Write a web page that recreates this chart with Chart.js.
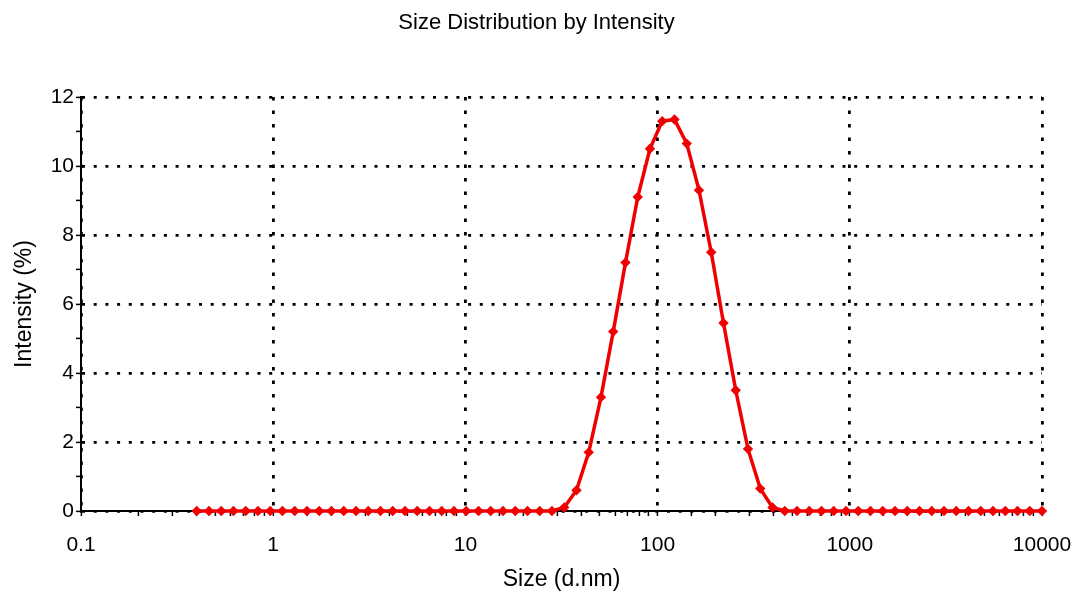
<!DOCTYPE html>
<html>
<head>
<meta charset="utf-8">
<script src="https://cdn.jsdelivr.net/npm/chart.js@4.4.1/dist/chart.umd.min.js"></script>
<style>
  html, body { margin: 0; padding: 0; background: #fff; }
  #wrap { width: 1089px; height: 600px; }
</style>
</head>
<body>
<div id="wrap"><canvas id="c" width="1089" height="600"></canvas></div>
<script>
// ---- data ----
const chartTitle = 'Size Distribution by Intensity';
const xAxisTitle = 'Size (d.nm)';
const yAxisTitle = 'Intensity (%)';

// size bins (d.nm)
const sizes = [
  0.4, 0.4632, 0.5365, 0.6213, 0.7195, 0.8332, 0.9649, 1.117, 1.294, 1.499,
  1.736, 2.01, 2.328, 2.696, 3.122, 3.615, 4.187, 4.849, 5.615, 6.503,
  7.531, 8.721, 10.1, 11.7, 13.54, 15.69, 18.17, 21.04, 24.36, 28.21,
  32.67, 37.84, 43.82, 50.75, 58.77, 68.06, 78.82, 91.28, 105.7, 122.4,
  141.8, 164.2, 190.1, 220.2, 255.0, 295.3, 342.0, 396.1, 458.7, 531.2,
  615.1, 712.4, 825.0, 955.4, 1106, 1281, 1484, 1718, 1990, 2305,
  2669, 3091, 3580, 4145, 4801, 5560, 6439, 7456, 8635, 10000
];

// intensity (%)
const intensity = [
  0, 0, 0, 0, 0, 0, 0, 0, 0, 0,
  0, 0, 0, 0, 0, 0, 0, 0, 0, 0,
  0, 0, 0, 0, 0, 0, 0, 0, 0, 0,
  0.1, 0.6, 1.7, 3.3, 5.2, 7.2, 9.1, 10.5, 11.3, 11.35,
  10.65, 9.3, 7.5, 5.45, 3.5, 1.8, 0.65, 0.1, 0, 0,
  0, 0, 0, 0, 0, 0, 0, 0, 0, 0,
  0, 0, 0, 0, 0, 0, 0, 0, 0, 0
];

const xTickValues = [0.1, 1, 10, 100, 1000, 10000];
const xTickLabels = ['0.1', '1', '10', '100', '1000', '10000'];
const yTickValues = [0, 2, 4, 6, 8, 10, 12];
const yTickLabels = ['0', '2', '4', '6', '8', '10', '12'];

// ---- chart ----
const FONT = "'Liberation Sans', Arial, sans-serif";
function xLabelIndex(v) {
  for (let i = 0; i < xTickValues.length; i++) {
    if (Math.abs(Math.log10(v) - Math.log10(xTickValues[i])) < 1e-6) return i;
  }
  return -1;
}
function yLabelIndex(v) {
  for (let i = 0; i < yTickValues.length; i++) {
    if (Math.abs(v - yTickValues[i]) < 1e-6) return i;
  }
  return -1;
}

new Chart(document.getElementById('c'), {
  type: 'line',
  data: {
    datasets: [{
      data: sizes.map((s, i) => ({ x: s, y: intensity[i] })),
      borderColor: 'rgb(240,0,0)',
      backgroundColor: 'rgb(240,0,0)',
      borderWidth: 3.5,
      pointStyle: 'rectRot',
      pointRadius: 5.2,
      pointBorderWidth: 0,
      pointBackgroundColor: 'rgb(240,0,0)',
      tension: 0,
      clip: false
    }]
  },
  options: {
    responsive: false,
    devicePixelRatio: 1,
    animation: false,
    layout: { padding: { left: 31, right: 47, top: 0, bottom: 0 } },
    plugins: {
      legend: { display: false },
      tooltip: { enabled: false },
      title: {
        display: true,
        text: chartTitle,
        color: '#000',
        font: { family: FONT, size: 22, weight: 'normal' },
        padding: { top: 10, bottom: 60.6 }
      }
    },
    scales: {
      x: {
        type: 'logarithmic',
        min: 0.1,
        max: 10000,
        afterFit: (s) => { s.height = 89; },
        border: { display: true, color: '#000', width: 2, dash: [3.5, 10] },
        grid: {
          color: (ctx) => (ctx.tick && xLabelIndex(ctx.tick.value) >= 0) ? '#000' : 'rgba(0,0,0,0)',
          lineWidth: 2.8,
          drawTicks: true,
          tickLength: 5,
          tickColor: '#000',
          tickWidth: 1.5
        },
        ticks: {
          autoSkip: false,
          maxRotation: 0,
          padding: 17,
          color: '#000',
          font: { family: FONT, size: 21 },
          callback: (v) => { const i = xLabelIndex(v); return i >= 0 ? xTickLabels[i] : ''; }
        },
        title: {
          display: true,
          text: xAxisTitle,
          color: '#000',
          font: { family: FONT, size: 23 },
          padding: { top: 0, bottom: 7 }
        }
      },
      y: {
        min: 0,
        max: 12,
        afterFit: (s) => { s.width = 50; },
        border: { display: true, color: '#000', width: 2, dash: [3, 8.7] },
        grid: {
          color: (ctx) => (ctx.tick && yLabelIndex(ctx.tick.value) >= 0) ? '#000' : 'rgba(0,0,0,0)',
          lineWidth: 2.8,
          drawTicks: true,
          tickLength: 5,
          tickColor: '#000',
          tickWidth: 1.5
        },
        ticks: {
          stepSize: 1,
          autoSkip: false,
          padding: 2,
          color: '#000',
          font: { family: FONT, size: 21 },
          callback: (v) => { const i = yLabelIndex(v); return i >= 0 ? yTickLabels[i] : ''; }
        },
        title: {
          display: true,
          text: yAxisTitle,
          color: '#000',
          font: { family: FONT, size: 23 },
          padding: { top: -19.8, bottom: 0 }
        }
      }
    }
  }
});
</script>
</body>
</html>
